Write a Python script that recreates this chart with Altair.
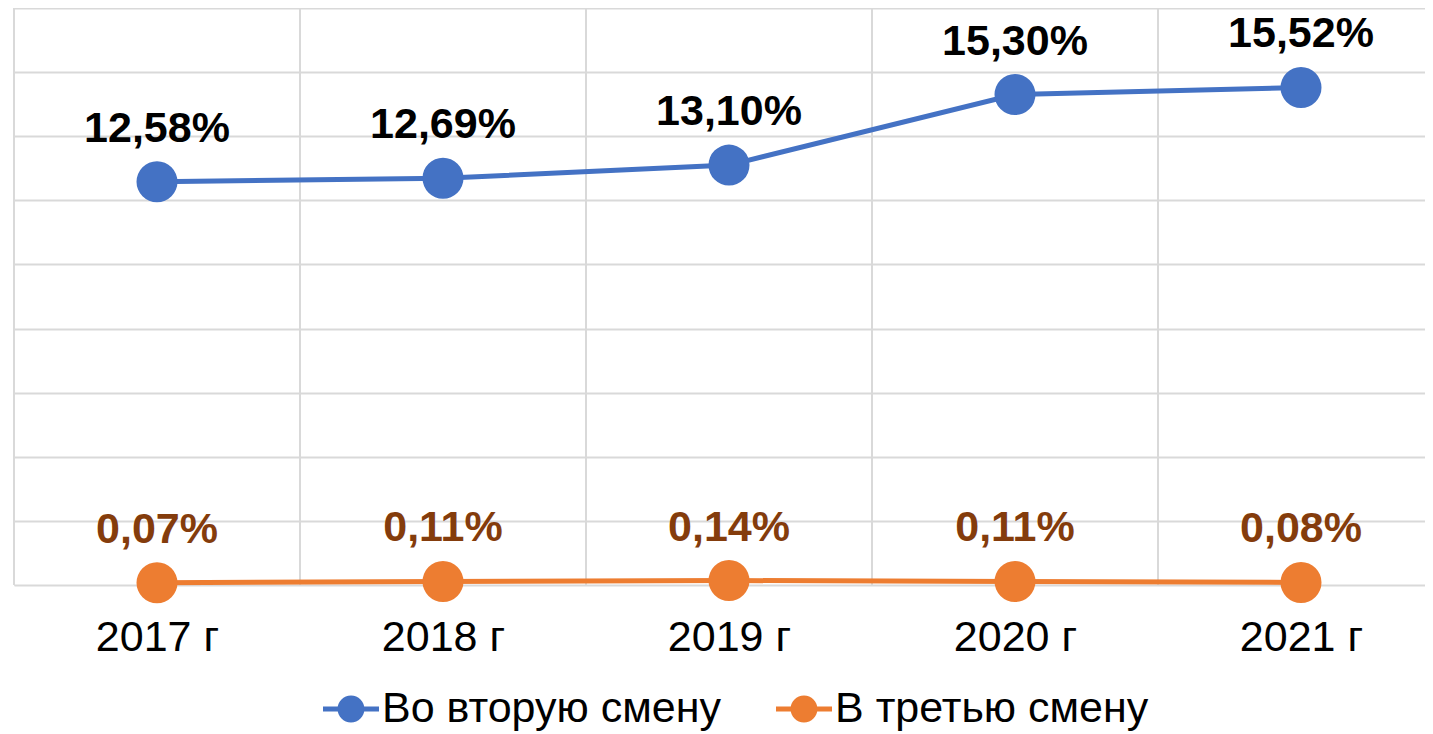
import altair as alt
import pandas as pd

years = ["2017 г", "2018 г", "2019 г", "2020 г", "2021 г"]
series_names = ["Во вторую смену", "В третью смену"]
second_shift = [12.58, 12.69, 13.10, 15.30, 15.52]
third_shift = [0.07, 0.11, 0.14, 0.11, 0.08]
y_ticks = [0, 2, 4, 6, 8, 10, 12, 14, 16, 18]

colors = ["#4472C4", "#ED7D31"]
FONT = "Liberation Sans, Arial"

rows = []
for i, y in enumerate(years):
    for name, vals in zip(series_names, [second_shift, third_shift]):
        v = vals[i]
        rows.append({
            "year": y,
            "idx": i,
            "series": name,
            "value": v,
            "label": f"{v:.2f}".replace(".", ",") + "%",
        })
df = pd.DataFrame(rows)
edges = pd.DataFrame({"edge": [i - 0.5 for i in range(len(years))]})

label_expr = "[" + ",".join(f"'{y}'" for y in years) + "][datum.value]"

PLOT_W = 1411
BAND = 286
x_scale = alt.Scale(domain=[-0.5, -0.5 + PLOT_W / BAND], nice=False, zero=False)
y_scale = alt.Scale(domain=[0, 18], nice=False)

x_axis = alt.Axis(values=list(range(len(years))), labelExpr=label_expr, grid=False,
                  ticks=False, domain=False, labelFontSize=43, labelFont=FONT,
                  labelColor="#000000", labelPadding=31, title=None)
y_axis = alt.Axis(values=y_ticks, grid=True, gridColor="#D9D9D9", gridWidth=2,
                  labels=False, ticks=False, domain=False, title=None)

legend = alt.Legend(title=None, orient="none", legendX=309, legendY=673,
                    direction="horizontal", labelFontSize=43, labelFont=FONT,
                    labelColor="#000000", labelOffset=3, columnPadding=55,
                    labelLimit=0,
                    symbolType="M-1,-0.09H1V0.09H-1Z M-0.48,0A0.48,0.48 0 1,1 0.48,0A0.48,0.48 0 1,1 -0.48,0Z",
                    symbolSize=3136, symbolStrokeWidth=0, padding=0)

color = alt.Color("series:N", scale=alt.Scale(domain=series_names, range=colors),
                  legend=legend)

base = alt.Chart(df).encode(
    x=alt.X("idx:Q", scale=x_scale, axis=x_axis),
    y=alt.Y("value:Q", scale=y_scale, axis=y_axis),
)

grid_v = alt.Chart(edges).mark_rule(color="#D9D9D9", strokeWidth=2).encode(
    x=alt.X("edge:Q", scale=x_scale, axis=x_axis),
    y=alt.datum(0, scale=y_scale, axis=y_axis),
    y2=alt.datum(18),
)

lines = base.mark_line(strokeWidth=5).encode(color=color, detail="series:N")
points = base.mark_point(filled=True, opacity=1, size=1681, shape="circle").encode(color=color)
texts = base.mark_text(dy=-40, baseline="alphabetic", fontSize=43, fontWeight="bold",
                       font=FONT).encode(
    text="label:N",
    color=alt.condition(alt.datum.series == series_names[1], alt.value("#843C0C"),
                        alt.value("#000000")),
)

chart = alt.layer(grid_v, lines, points, texts).properties(
    width=PLOT_W, height=577,
    autosize=alt.AutoSizeParams(type="none"),
    padding={"left": 6, "top": 0, "right": 0, "bottom": 150},
).configure_view(stroke=None).configure(background="white")

chart.save("out.html", embed_options={"renderer": "svg", "actions": False})
